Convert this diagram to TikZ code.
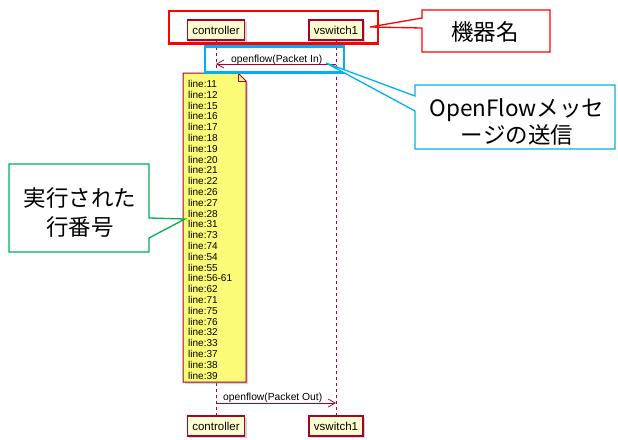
\documentclass[tikz,border=0pt]{standalone}
\usepackage{fontspec}
\setmainfont{Liberation Sans}
\newfontfamily\cjk{Noto Sans CJK JP}
\usetikzlibrary{arrows.meta,shadows}
\definecolor{umlred}{HTML}{A80036}
\definecolor{partfill}{HTML}{FEFECE}
\definecolor{notefill}{HTML}{FBFB77}
\definecolor{calred}{HTML}{FF0000}
\definecolor{calblue}{HTML}{00B0F0}
\definecolor{calgreen}{HTML}{00B050}
\begin{document}
\begin{tikzpicture}[x=1pt,y=-1pt,
  part/.style={draw=umlred, fill=partfill, line width=1.2pt,
    font=\fontsize{11.5}{12}\selectfont, minimum height=20pt,
    inner xsep=5pt, inner ysep=0pt,
    drop shadow={shadow xshift=2pt, shadow yshift=-2pt, opacity=0.35}},
  life/.style={draw=umlred, dash pattern=on 3pt off 3pt, line width=0.8pt},
  msg/.style={draw=umlred, line width=0.8pt, -{Straight Barb[length=7pt,width=8pt]}},
  msglabel/.style={font=\fontsize{10.3}{11}\selectfont, inner sep=0pt},
  notetext/.style={font=\fontsize{10}{10.8}\selectfont, align=left, inner sep=0pt},
  hilite/.style={line width=2.6pt},
  callout/.style={line width=1.3pt, fill=white},
  caltext/.style={font=\cjk\fontsize{22.5}{28}\selectfont, align=center, inner sep=0pt},
]
\useasboundingbox (0,0) rectangle (618,439);

% participants
\node[part] (ctop) at (216,30) {controller};
\node[part] (vtop) at (336,30) {vswitch1};
\node[part] (cbot) at (216,426) {controller};
\node[part] (vbot) at (336,426) {vswitch1};

% lifelines
\draw[life] (ctop.south) -- (cbot.north);
\draw[life] (vtop.south) -- (vbot.north);

% note
\draw[draw=umlred, fill=notefill, line width=1pt,
  drop shadow={shadow xshift=2pt, shadow yshift=-2pt, opacity=0.35}]
  (183,73) -- (238,73) -- (246,81) -- (246,382) -- (183,382) -- cycle;
\draw[draw=umlred, line width=1pt] (238,73) -- (238,81) -- (246,81);
\node[notetext, anchor=north west] (lines) at (188,80) {line:11\\line:12\\line:15\\line:16\\line:17\\line:18\\line:19\\line:20\\line:21\\line:22\\line:26\\line:27\\line:28\\line:31\\line:73\\line:74\\line:54\\line:55\\line:56-61\\line:62\\line:71\\line:75\\line:76\\line:32\\line:33\\line:37\\line:38\\line:39};

% messages
\coordinate (cIn) at (216,64);
\coordinate (vIn) at (336,64);
\draw[msg] (vIn) -- (cIn);
\node[msglabel, anchor=base west] (inlabel) at (231,62.5) {openflow(Packet In)};
\coordinate (cOut) at (216,403);
\coordinate (vOut) at (336,403);
\draw[msg] (cOut) -- (vOut);
\node[msglabel, anchor=base west] (outlabel) at (223,400.5) {openflow(Packet Out)};

% highlight boxes
\draw[hilite, draw=calred] (169,11) rectangle (378,43.5);
\draw[hilite, draw=calblue] (205,46.5) rectangle (344,72.5);

% callouts
\draw[callout, draw=calred] (422,10) -- (550,10) -- (550,52) -- (422,52) -- (422,28) -- (370,27) -- (422,18) -- cycle;
\node[caltext] (kiki) at (485,32) {機器名};

\draw[callout, draw=calblue] (415,85) -- (615,85) -- (615,149) -- (415,149) -- (415,111) -- (326,63) -- (415,96) -- cycle;
\node[caltext, font=\cjk\fontsize{22.5}{27}\selectfont] (ofmsg) at (517,121.5) {OpenFlowメッセ\\ージの送信};

\draw[callout, draw=calgreen] (9,164) -- (149,164) -- (149,218) -- (185,219) -- (149,238) -- (149,252) -- (9,252) -- cycle;
\node[caltext, font=\cjk\fontsize{22.5}{29}\selectfont] (gyo) at (80,212.5) {実行された\\行番号};
\end{tikzpicture}
\end{document}
